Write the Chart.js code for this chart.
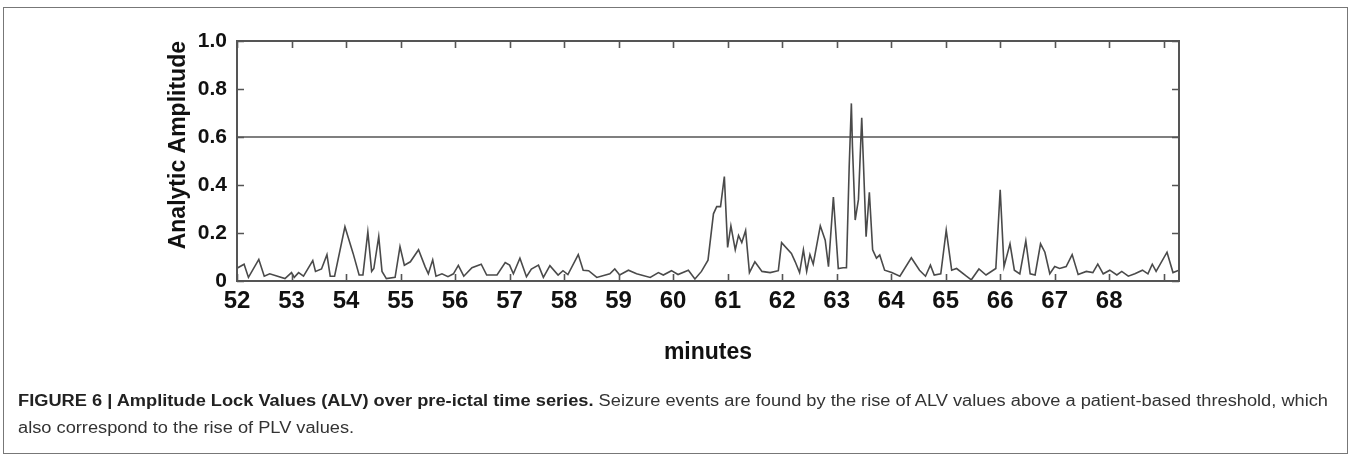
<!DOCTYPE html>
<html><head><meta charset="utf-8">
<script src="https://cdn.jsdelivr.net/npm/chart.js@4.4.1/dist/chart.umd.min.js"></script>
<style>
html,body{margin:0;padding:0;background:#fff;}
body{width:1351px;height:457px;position:relative;overflow:hidden;}
#frame{position:absolute;left:3px;top:7px;width:1345px;height:447px;border:1.5px solid #777;box-sizing:border-box;}
#wrap{position:absolute;left:0;top:0;width:1351px;height:457px;}
#cap{position:absolute;left:18px;top:387px;font-family:'Liberation Sans',Arial,sans-serif;font-size:16px;color:#333;line-height:27px;white-space:nowrap;transform-origin:0 0;}
#cap b{color:#222;}
</style></head><body>
<div id="frame"></div>
<div id="wrap"><canvas id="c" width="1351" height="457"></canvas></div>
<div id="cap"><div id="l1"><b>FIGURE 6 | Amplitude Lock Values (ALV) over pre-ictal time series.</b> Seizure events are found by the rise of ALV values above a patient-based threshold, which</div><div>also correspond to the rise of PLV values.</div></div>
<script>
const minutes = [52.00,52.13,52.21,52.40,52.50,52.60,52.88,53.00,53.05,53.13,53.22,53.39,53.44,53.55,53.65,53.71,53.79,53.98,54.13,54.24,54.31,54.40,54.47,54.51,54.60,54.66,54.74,54.90,54.99,55.07,55.18,55.33,55.45,55.51,55.59,55.65,55.76,55.87,55.97,56.06,56.16,56.31,56.48,56.58,56.77,56.92,57.00,57.07,57.19,57.31,57.40,57.53,57.62,57.74,57.89,57.98,58.07,58.26,58.35,58.45,58.60,58.84,58.93,59.02,59.18,59.33,59.58,59.73,59.82,59.97,60.09,60.28,60.40,60.52,60.64,60.74,60.80,60.87,60.94,61.00,61.06,61.14,61.20,61.26,61.33,61.40,61.50,61.63,61.78,61.93,61.99,62.17,62.24,62.32,62.39,62.45,62.51,62.57,62.70,62.79,62.85,62.94,63.03,63.12,63.18,63.23,63.27,63.29,63.34,63.40,63.46,63.49,63.54,63.60,63.66,63.73,63.79,63.88,64.01,64.16,64.37,64.52,64.63,64.72,64.79,64.91,65.01,65.11,65.20,65.38,65.47,65.61,65.74,65.92,66.00,66.07,66.18,66.26,66.36,66.47,66.55,66.64,66.74,66.82,66.91,67.00,67.09,67.21,67.32,67.43,67.58,67.70,67.79,67.89,68.01,68.14,68.23,68.35,68.47,68.61,68.71,68.79,68.86,69.06,69.17,69.28];
const alv = [0.053,0.07,0.015,0.09,0.02,0.03,0.01,0.035,0.015,0.035,0.02,0.085,0.04,0.05,0.11,0.02,0.02,0.226,0.115,0.025,0.025,0.205,0.04,0.052,0.185,0.04,0.01,0.015,0.143,0.066,0.08,0.13,0.06,0.03,0.088,0.02,0.03,0.018,0.03,0.065,0.02,0.055,0.07,0.025,0.025,0.077,0.066,0.03,0.095,0.018,0.05,0.066,0.015,0.064,0.025,0.043,0.027,0.11,0.045,0.043,0.015,0.03,0.05,0.025,0.045,0.03,0.015,0.035,0.025,0.043,0.027,0.045,0.008,0.04,0.087,0.28,0.31,0.31,0.435,0.14,0.23,0.13,0.19,0.16,0.21,0.035,0.08,0.04,0.035,0.043,0.16,0.115,0.08,0.035,0.13,0.04,0.11,0.07,0.23,0.17,0.06,0.35,0.052,0.055,0.055,0.476,0.74,0.56,0.254,0.34,0.68,0.5,0.185,0.37,0.13,0.095,0.108,0.045,0.035,0.02,0.097,0.045,0.02,0.066,0.025,0.03,0.212,0.045,0.052,0.02,0.005,0.05,0.025,0.052,0.38,0.06,0.155,0.045,0.03,0.167,0.03,0.025,0.155,0.12,0.03,0.06,0.052,0.06,0.11,0.027,0.04,0.035,0.07,0.03,0.045,0.025,0.04,0.02,0.03,0.045,0.03,0.07,0.04,0.12,0.035,0.045];
const thresholdValue = 0.6;
const xRange = [52, 69.28];
const xLastLabel = 68;
const yRange = [0, 1];

const FONT = "'Liberation Sans Narrow','Liberation Sans',Arial,sans-serif";

const frameTicks = {
  id: 'frameTicks',
  afterDatasetsDraw(chart) {
    const {ctx, chartArea: a, scales: {x, y}} = chart;
    ctx.save();
    ctx.strokeStyle = '#555';
    ctx.lineWidth = 2;
    ctx.strokeRect(a.left, a.top, a.right - a.left, a.bottom - a.top);
    ctx.lineWidth = 1.6;
    const L = 7;
    ctx.beginPath();
    x.ticks.forEach(t => {
      if (!Number.isInteger(Math.round(t.value * 1000) / 1000)) return;
      const px = Math.round(x.getPixelForValue(t.value)) + 0.5;
      ctx.moveTo(px, a.bottom); ctx.lineTo(px, a.bottom - L);
      ctx.moveTo(px, a.top); ctx.lineTo(px, a.top + L);
    });
    y.ticks.forEach(t => {
      const py = Math.round(y.getPixelForValue(t.value)) + 0.5;
      ctx.moveTo(a.left, py); ctx.lineTo(a.left + L, py);
      ctx.moveTo(a.right, py); ctx.lineTo(a.right - L, py);
    });
    ctx.stroke();
    ctx.restore();
  }
};

new Chart(document.getElementById('c'), {
  type: 'scatter',
  data: {
    datasets: [
      {
        data: minutes.map((m, i) => ({x: m, y: alv[i]})),
        showLine: true, borderColor: '#4a4a4a', borderWidth: 1.6,
        pointRadius: 0, tension: 0
      },
      {
        data: [{x: xRange[0], y: thresholdValue}, {x: xRange[1], y: thresholdValue}],
        showLine: true, borderColor: '#555', borderWidth: 1.6,
        pointRadius: 0
      }
    ]
  },
  options: {
    responsive: false,
    animation: false,
    layout: {padding: {top: 41, right: 172, left: 0, bottom: 0}},
    plugins: {legend: {display: false}, tooltip: {enabled: false}},
    scales: {
      x: {
        type: 'linear', min: xRange[0], max: xRange[1],
        grid: {display: false, drawTicks: false},
        border: {display: false},
        ticks: {
          stepSize: 1, includeBounds: false, padding: 6, color: '#111',
          font: {family: FONT, size: 24, weight: 'bold'},
          maxRotation: 0, autoSkip: false,
          callback: v => (Number.isInteger(v) && v <= xLastLabel) ? String(v) : ''
        },
        title: {display: true, text: 'minutes', color: '#111',
          font: {family: FONT, size: 23, weight: 'bold'},
          padding: {top: 0, bottom: 91}},
        afterFit: s => { s.height = 457 - 281; }
      },
      y: {
        min: yRange[0], max: yRange[1],
        grid: {display: false, drawTicks: false},
        border: {display: false},
        ticks: {
          stepSize: 0.2, padding: 10, color: '#111',
          font: {family: FONT, size: 21, weight: 'bold'},
          callback: v => Math.abs(v) < 1e-9 ? '0' : v.toFixed(1)
        },
        title: {display: true, text: 'Analytic Amplitude', color: '#111', align: 'end',
          font: {family: "'Liberation Sans',Arial,sans-serif", size: 23, weight: 'bold'},
          padding: {top: 165, bottom: 0}},
        afterFit: s => { s.width = 237; }
      }
    }
  },
  plugins: [frameTicks]
});

const cap = document.getElementById('cap');
const l1 = document.getElementById('l1');
const w = l1.getBoundingClientRect().width;
cap.style.transform = 'scaleX(' + (1310 / w) + ')';
</script>
</body></html>
